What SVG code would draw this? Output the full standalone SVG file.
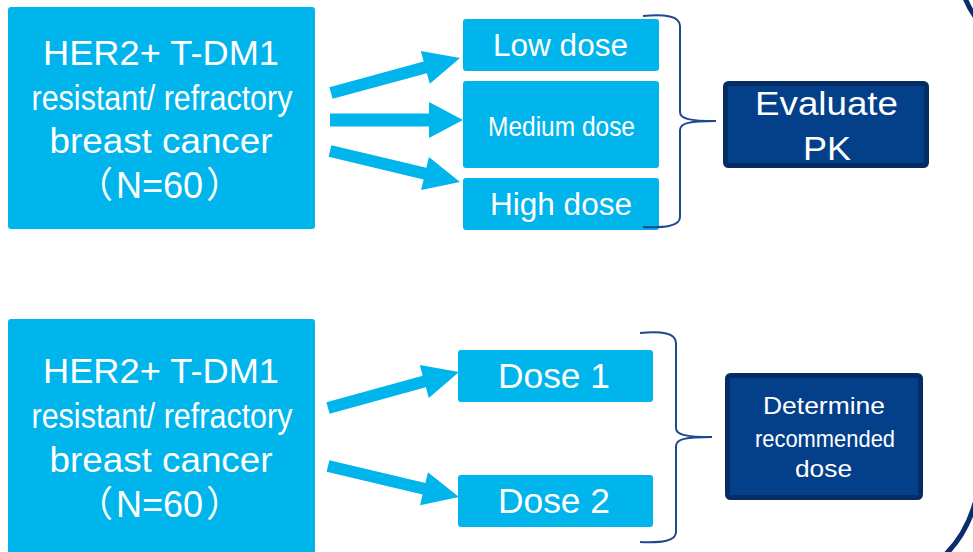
<svg xmlns="http://www.w3.org/2000/svg" width="973" height="552" viewBox="0 0 973 552">
<style>
.lb{fill:#00B4EC}
.db{fill:#043F8A;stroke:#062D63;stroke-width:5}
.t{font-family:"Liberation Sans",Arial,"Noto Sans CJK SC",sans-serif;fill:#ffffff;text-anchor:middle}
.ts{font-family:"Liberation Sans",Arial,"Noto Sans CJK SC",sans-serif;fill:#ffffff;text-anchor:start}
.br{fill:none;stroke:#1B4A8E;stroke-width:2}
.arr{fill:#00B4EC}
.arc{fill:none;stroke:#082F6B;stroke-width:5}
</style>
<rect width="973" height="552" fill="#ffffff"/>
<path class="arc" d="M965 -2 Q969 8 976 18"/>
<path class="arc" d="M975 503 Q966 535 944 556"/>
<g id="src1">
<rect class="lb" x="8" y="7" width="307" height="222" rx="3"/>
<text class="t" x="161" y="65" font-size="35" textLength="236" lengthAdjust="spacingAndGlyphs">HER2+ T-DM1</text>
<text class="t" x="162" y="110" font-size="35" textLength="261" lengthAdjust="spacingAndGlyphs">resistant/ refractory</text>
<text class="t" x="161" y="153" font-size="35" textLength="223" lengthAdjust="spacingAndGlyphs">breast cancer</text>
<text class="ts" y="198" font-size="36"><tspan x="77">（</tspan><tspan x="116">N=60</tspan><tspan x="206">）</tspan></text>
</g>
<g id="src2">
<rect class="lb" x="8" y="319" width="307" height="250" rx="3"/>
<text class="t" x="161" y="383" font-size="35" textLength="236" lengthAdjust="spacingAndGlyphs">HER2+ T-DM1</text>
<text class="t" x="162" y="428" font-size="35" textLength="261" lengthAdjust="spacingAndGlyphs">resistant/ refractory</text>
<text class="t" x="161" y="472" font-size="35" textLength="223" lengthAdjust="spacingAndGlyphs">breast cancer</text>
<text class="ts" y="517" font-size="36"><tspan x="77">（</tspan><tspan x="116">N=60</tspan><tspan x="206">）</tspan></text>
</g>
<g id="low">
<rect class="lb" x="463" y="19" width="196" height="52" rx="3"/>
<text class="t" x="560.5" y="56" font-size="31" textLength="135" lengthAdjust="spacingAndGlyphs">Low dose</text>
</g>
<g id="medium">
<rect class="lb" x="463" y="81" width="196" height="87" rx="3"/>
<text class="t" x="561.5" y="136" font-size="28" textLength="147" lengthAdjust="spacingAndGlyphs">Medium dose</text>
</g>
<g id="high">
<rect class="lb" x="463" y="178" width="196" height="52" rx="3"/>
<text class="t" x="561" y="215" font-size="31" textLength="142" lengthAdjust="spacingAndGlyphs">High dose</text>
</g>
<g id="dose1">
<rect class="lb" x="458" y="350" width="195" height="52" rx="3"/>
<text class="t" x="554" y="388" font-size="35" textLength="112" lengthAdjust="spacingAndGlyphs">Dose 1</text>
</g>
<g id="dose2">
<rect class="lb" x="458" y="475" width="195" height="52" rx="3"/>
<text class="t" x="554" y="513" font-size="35" textLength="112" lengthAdjust="spacingAndGlyphs">Dose 2</text>
</g>
<g id="evaluate">
<rect class="db" x="725.5" y="83.5" width="201" height="82" rx="3"/>
<text class="t" x="826.5" y="115" font-size="34" textLength="143" lengthAdjust="spacingAndGlyphs">Evaluate</text>
<text class="t" x="827" y="160" font-size="34" textLength="48" lengthAdjust="spacingAndGlyphs">PK</text>
</g>
<g id="determine">
<rect class="db" x="727.5" y="375.5" width="193" height="122" rx="3"/>
<text class="t" x="824" y="414" font-size="24" textLength="122" lengthAdjust="spacingAndGlyphs">Determine</text>
<text class="t" x="825" y="447" font-size="24" textLength="140" lengthAdjust="spacingAndGlyphs">recommended</text>
<text class="t" x="823.5" y="477" font-size="24" textLength="57" lengthAdjust="spacingAndGlyphs">dose</text>
</g>
<g id="connectors">
<polygon class="arr" points="329.4,87.2 423.7,61.6 420.8,51.0 460,58 429.8,83.8 426.9,73.2 332.6,98.8"/>
<polygon class="arr" points="330,113.5 429,113.5 429,102 463,120 429,138 429,126.5 330,126.5"/>
<polygon class="arr" points="331.4,145.2 426.4,167.8 428.9,157.1 460,182 421.1,190.1 423.6,179.4 328.6,156.8"/>
<polygon class="arr" points="326.4,402.2 422.7,375.7 419.8,365.1 459,372 428.8,397.9 425.9,387.3 329.6,413.8"/>
<polygon class="arr" points="329.4,460.2 425.4,482.9 427.9,472.2 459,497 420.1,505.2 422.6,494.5 326.6,471.8"/>
<path class="br" d="M643 16 C665 14 680 16 680 26 L680 112 C680 119 690 121 716 121 C690 121 680 123 680 130 L680 217 C680 226 665 228 643 227"/>
<path class="br" d="M640 333 C662 331 676 333 676 343 L676 428 C676 435 686 437 712 437 C686 437 676 439 676 446 L676 532 C676 541 662 543 640 542"/>
</g>
</svg>
